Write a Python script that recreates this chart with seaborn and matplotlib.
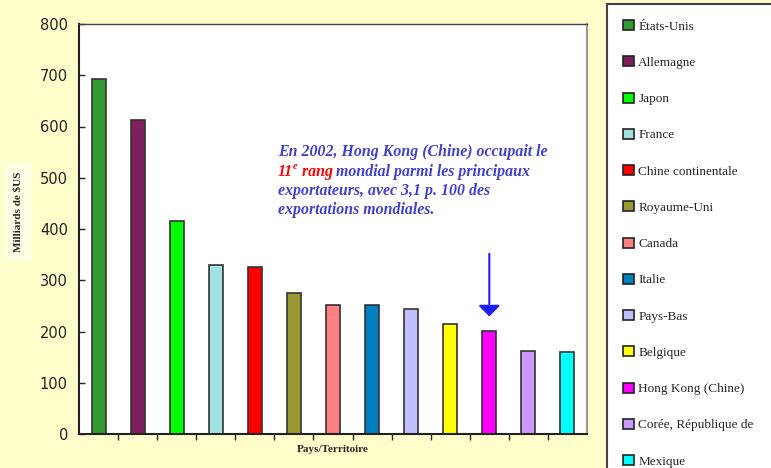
import matplotlib
matplotlib.use('Agg')
import matplotlib.pyplot as plt
import matplotlib.patches as mpatches
import seaborn as sns
import pandas as pd

pays = ['États-Unis', 'Allemagne', 'Japon', 'France', 'Chine continentale',
        'Royaume-Uni', 'Canada', 'Italie', 'Pays-Bas', 'Belgique',
        'Hong Kong (Chine)', 'Corée, République de', 'Mexique']
exportations = [693, 613, 416, 330, 326, 276, 252, 252, 244, 214, 201, 162, 160]
couleurs = ['#339933', '#7F1F5F', '#00FF00', '#A0E0E0', '#FF0000',
            '#999933', '#FF8080', '#0080C0', '#C0C0FF', '#FFFF00',
            '#FF00FF', '#CC99FF', '#00FFFF']
yticks = [0, 100, 200, 300, 400, 500, 600, 700, 800]

df = pd.DataFrame({'pays': pays, 'valeur': exportations})
palette = dict(zip(pays, couleurs))

sns.set_style('white')
serif = ['Liberation Serif', 'DejaVu Serif']

fig = plt.figure(figsize=(7.71, 4.68), dpi=100, facecolor='#FFFFCC')
ax = fig.add_axes([79/771, 1 - 434/468, (587 - 79)/771, (434 - 24)/468])
ax.set_facecolor('white')

sns.barplot(data=df, x='pays', y='valeur', hue='pays', palette=palette,
            order=pays, hue_order=pays, width=0.36, legend=False,
            saturation=1, edgecolor='#333333', linewidth=1.2, ax=ax)

ax.set_ylim(0, 800)
ax.set_xlim(-0.5, len(pays) - 0.5)
ax.set_yticks(yticks)
ax.set_yticklabels([str(v) for v in yticks], fontsize=10.5, color='#222222')
ax.tick_params(axis='y', direction='in', length=4, width=1, pad=8, left=True)
ax.set_xticks([])
ax.set_xticks([i + 0.5 for i in range(len(pays) - 1)], minor=True)
ax.tick_params(axis='x', which='minor', direction='out', length=4, width=1, bottom=True)
ax.set_xlabel('')
ax.set_ylabel('')

for side in ['left', 'bottom']:
    ax.spines[side].set_color('#222222')
    ax.spines[side].set_linewidth(1.5)
ax.spines['top'].set_color('#444444')
ax.spines['top'].set_linewidth(1)
ax.spines['right'].set_color('#999999')
ax.spines['right'].set_linewidth(1.5)

fig.text(333/771, 1 - 450/468, 'Pays/Territoire', ha='center', va='center',
         fontsize=8, fontweight='bold', family=serif)
fig.text(18/771, 1 - 212/468, 'Milliards de $US', ha='center', va='center',
         rotation=90, fontsize=8, fontweight='bold', family=serif,
         bbox=dict(facecolor='#FFFFE6', edgecolor='none', pad=6))

# texte d'annotation
bleu = '#3F3FD0'
style = dict(fontsize=11.4, fontweight='bold', fontstyle='italic', family=serif)
x0 = 278/771
fig.text(x0, 1 - 152/468, 'En 2002, Hong Kong (Chine) occupait le',
         color=bleu, va='center', **style)
t1 = fig.text(x0, 1 - 172/468, '11', color='red', va='center', **style)
t2 = ax.annotate('e', xy=(1, 0.55), xycoords=t1, color='red', va='bottom',
                 fontsize=7, fontweight='bold', fontstyle='italic', family=serif)
t3 = ax.annotate(' rang', xy=(1, 0), xycoords=(t2, t1), color='red',
                 va='bottom', **style)
ax.annotate(' mondial parmi les principaux', xy=(1, 0), xycoords=t3,
            color=bleu, va='bottom', **style)
fig.text(x0, 1 - 191/468, 'exportateurs, avec 3,1 p. 100 des',
         color=bleu, va='center', **style)
fig.text(x0, 1 - 210/468, 'exportations mondiales.',
         color=bleu, va='center', **style)

ax.annotate('', xy=(10, 224), xytext=(10, 357),
            arrowprops=dict(arrowstyle='-|>,head_length=0.33,head_width=0.33',
                            color='#1E1EF0', lw=1.5, mutation_scale=20))

# cadre de la légende (coupé par le bord de la figure)
fig.patches.append(mpatches.Rectangle((607/771, -0.05), 0.3, 1.05 - 4/468,
                                      transform=fig.transFigure, facecolor='white',
                                      edgecolor='#444444', linewidth=1.5, zorder=0))
handles = [mpatches.Patch(facecolor=c, edgecolor='#222222', linewidth=1.2)
           for c in couleurs]
fig.legend(handles, pays, loc='upper left',
           bbox_to_anchor=(607/771, 1 - 4/468),
           prop=dict(family=serif, size=9.5),
           handlelength=0.8, handleheight=0.8, handletextpad=0.35,
           labelspacing=1.79, borderpad=1.22, borderaxespad=0,
           frameon=False)

fig.savefig('out.png', dpi=100, facecolor=fig.get_facecolor())
